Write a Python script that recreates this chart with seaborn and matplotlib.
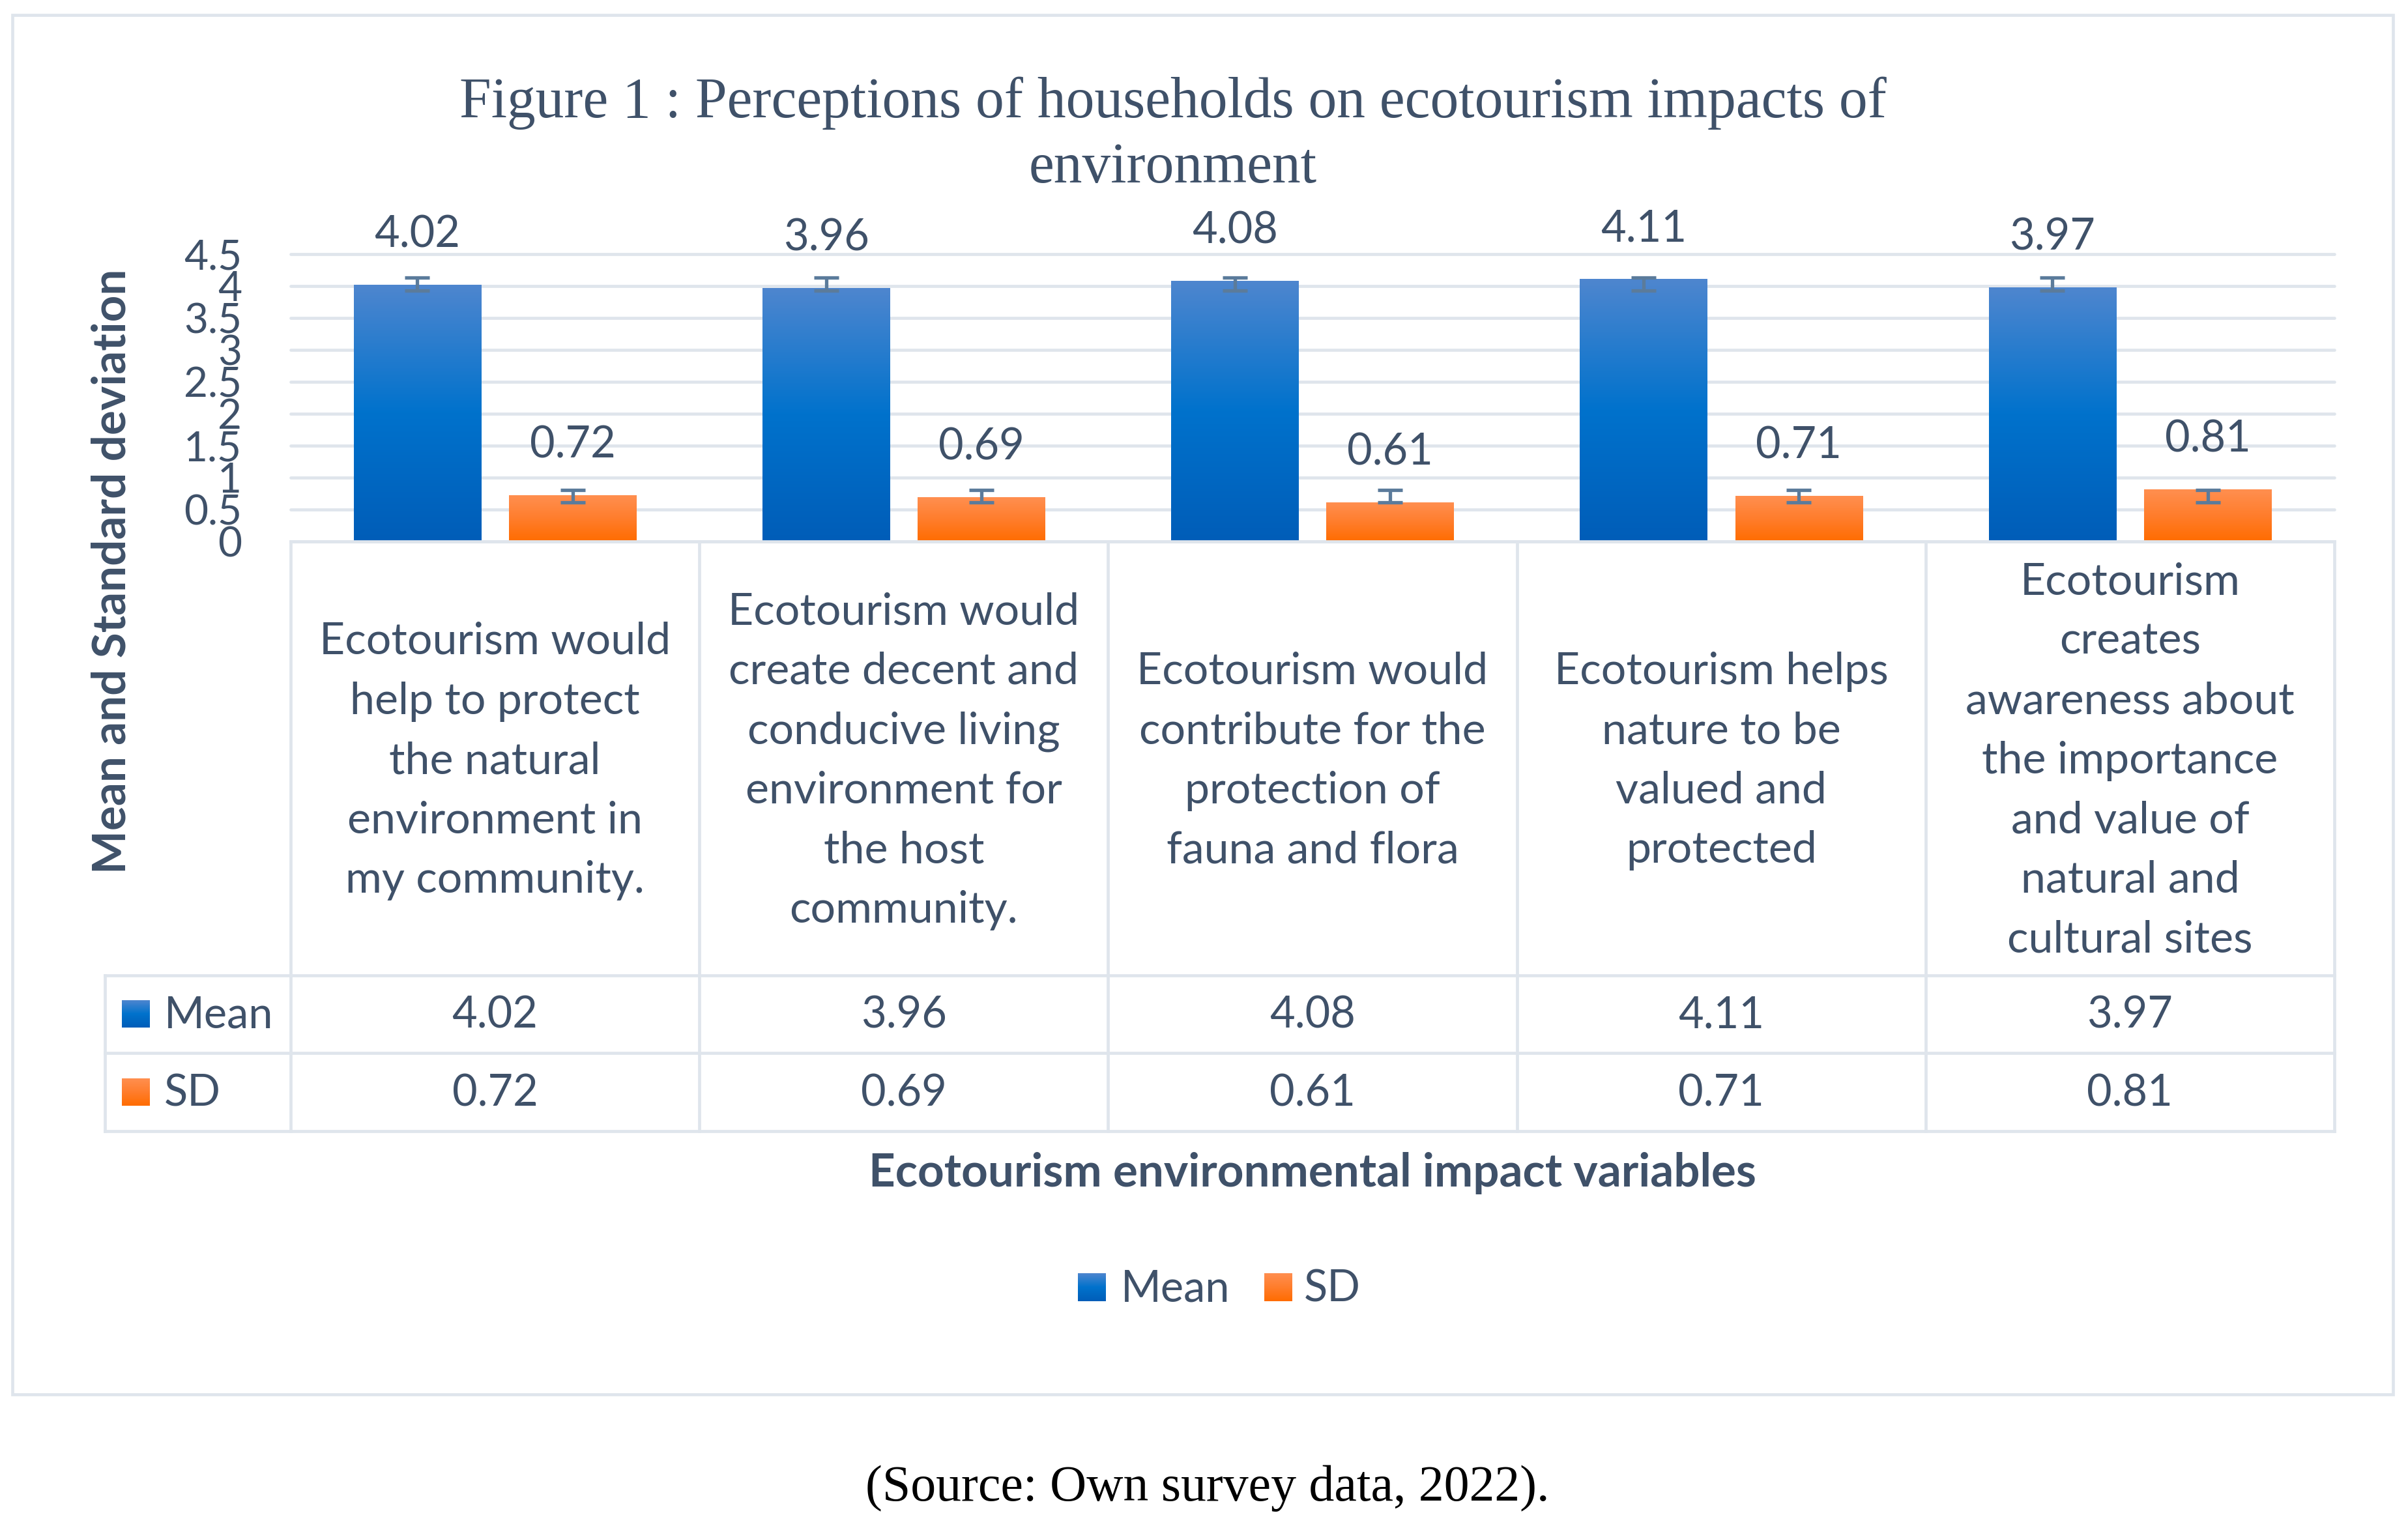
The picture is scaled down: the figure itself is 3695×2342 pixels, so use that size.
import numpy as np
import pandas as pd
import matplotlib
matplotlib.use("Agg")
import matplotlib.pyplot as plt
import seaborn as sns
from matplotlib.colors import LinearSegmentedColormap
from matplotlib.patches import Rectangle

# --- data ---
categories = [
    "Ecotourism would\nhelp to protect\nthe natural\nenvironment in\nmy community.",
    "Ecotourism would\ncreate decent and\nconducive living\nenvironment for\nthe host\ncommunity.",
    "Ecotourism would\ncontribute for the\nprotection of\nfauna and flora",
    "Ecotourism helps\nnature to be\nvalued and\nprotected",
    "Ecotourism\ncreates\nawareness about\nthe importance\nand value of\nnatural and\ncultural sites",
]
series_names = ["Mean", "SD"]
mean_values = [4.02, 3.96, 4.08, 4.11, 3.97]
sd_values = [0.72, 0.69, 0.61, 0.71, 0.81]
error_size = [0.1, 0.1]
y_ticks = [0, 0.5, 1, 1.5, 2, 2.5, 3, 3.5, 4, 4.5]
y_tick_labels = ["0", "0.5", "1", "1.5", "2", "2.5", "3", "3.5", "4", "4.5"]

title = "Figure 1 : Perceptions of households on ecotourism impacts of\nenvironment"
y_title = "Mean and Standard deviation"
x_title = "Ecotourism environmental impact variables"
source = "(Source: Own survey data, 2022)."

TXT = "#3f5169"
GRID = "#dfe5ec"
ERR = "#5b7b9b"
LW = 1.7

cmaps = {
    "Mean": LinearSegmentedColormap.from_list("blu", [(0, "#4e86cf"), (0.5, "#0072cc"), (1, "#005db8")]),
    "SD": LinearSegmentedColormap.from_list("org", [(0, "#ff8f50"), (0.5, "#ff7d2c"), (1, "#ff6c00")]),
}
palette = {"Mean": "#0072cc", "SD": "#ff7d2c"}

df = pd.DataFrame({
    "item": categories * 2,
    "stat": ["Mean"] * len(categories) + ["SD"] * len(categories),
    "value": mean_values + sd_values,
})

sns.set_style("white")
plt.rcParams["font.family"] = ["Lato", "DejaVu Sans"]

W, H, DPI = 3695, 2342, 200
fig = plt.figure(figsize=(W / DPI, H / DPI), dpi=DPI, facecolor="white")

# plot area in pixels
left, right, top, bottom = 446, 3582, 390, 831
ax = fig.add_axes([left / W, 1 - bottom / H, (right - left) / W, (bottom - top) / H])

sns.barplot(data=df, x="item", y="value", hue="stat", hue_order=series_names,
            palette=palette, saturation=1, width=0.76, gap=0.18, errorbar=None,
            legend=False, ax=ax)

grad = np.linspace(0, 1, 256).reshape(-1, 1)
centers = {"Mean": [], "SD": []}
for p in list(ax.patches):
    h = p.get_height()
    if h == 0 or np.isnan(h):
        continue
    x0, w = p.get_x(), p.get_width()
    cx = x0 + w / 2
    # bars left of the group centre are Mean, right of it are SD
    stat = "Mean" if cx < round(cx) else "SD"
    ax.imshow(grad, extent=(x0, x0 + w, 0, h), origin="upper", aspect="auto",
              cmap=cmaps[stat], interpolation="bilinear", zorder=2)
    p.set_facecolor("none")
    p.set_edgecolor("none")
    centers[stat].append(cx)
    ax.annotate(f"{h:.2f}", xy=(cx, h), xytext=(0, 58 * 72 / DPI),
                textcoords="offset points", ha="center", va="baseline",
                fontsize=24, color=TXT)

for stat, vals, err in zip(series_names, [mean_values, sd_values], error_size):
    xs = sorted(centers[stat])
    ax.errorbar(xs, [np.mean(vals)] * len(xs), yerr=err, fmt="none", ecolor=ERR,
                elinewidth=1.9, capsize=7, capthick=1.9, zorder=4)

ax.set_xlim(-0.5, len(categories) - 0.5)
ax.set_ylim(0, 4.5)
ax.set_yticks(y_ticks, y_tick_labels)
ax.yaxis.grid(True, color=GRID, lw=LW)
ax.xaxis.grid(False)
ax.set_axisbelow(True)
for l in ax.get_ygridlines():
    l.set_clip_on(False)
for s in ax.spines.values():
    s.set_visible(False)
ax.tick_params(axis="y", length=0, pad=27, labelsize=23, labelcolor=TXT)
ax.tick_params(axis="x", length=0, labelbottom=False)
ax.set_xlabel("")
ax.set_ylabel("")

# overlay in pixel coordinates for the data table, titles and legend
ov = fig.add_axes([0, 0, 1, 1], zorder=5)
ov.set_xlim(0, W)
ov.set_ylim(H, 0)
ov.axis("off")

ov.add_patch(Rectangle((19, 23), 3672 - 19, 2140 - 23, fill=False, ec=GRID, lw=LW))

edges = np.linspace(left, right, len(categories) + 1)
row_top, row_mid, row_sd, row_end = bottom, 1497, 1616, 1736
tab_left = 161
ov.plot([left, right], [row_top, row_top], color=GRID, lw=LW, solid_capstyle="projecting")
for y in [row_mid, row_sd, row_end]:
    ov.plot([tab_left, right], [y, y], color=GRID, lw=LW, solid_capstyle="projecting")
for x in edges:
    ov.plot([x, x], [row_top, row_end], color=GRID, lw=LW, solid_capstyle="projecting")
ov.plot([tab_left, tab_left], [row_mid, row_end], color=GRID, lw=LW, solid_capstyle="projecting")

cell_mid = (row_top + row_mid) / 2 + 23
for i, cat in enumerate(categories):
    cx = (edges[i] + edges[i + 1]) / 2
    lines = cat.split("\n")
    n = len(lines)
    for j, line in enumerate(lines):
        ov.text(cx, cell_mid + (j - (n - 1) / 2) * 91.5, line, ha="center",
                va="baseline", fontsize=24.5, color=TXT)
    ov.text(cx, 1578, f"{mean_values[i]:.2f}", ha="center", va="baseline", fontsize=24, color=TXT)
    ov.text(cx, 1698, f"{sd_values[i]:.2f}", ha="center", va="baseline", fontsize=24, color=TXT)


def key(x0, y0, size, stat):
    ov.imshow(grad, extent=(x0, x0 + size, y0 + size, y0), origin="upper", aspect="auto",
              cmap=cmaps[stat], interpolation="bilinear")


key(187, 1535, 42, "Mean")
ov.text(252, 1578, "Mean", ha="left", va="baseline", fontsize=24, color=TXT)
key(187, 1655, 42, "SD")
ov.text(252, 1698, "SD", ha="left", va="baseline", fontsize=24, color=TXT)

# bottom legend
key(1654, 1954, 43, "Mean")
ov.text(1720, 1997, "Mean", ha="left", va="baseline", fontsize=24, color=TXT)
key(1940, 1954, 43, "SD")
ov.text(2001, 1997, "SD", ha="left", va="baseline", fontsize=24, color=TXT)

ov.set_xlim(0, W)
ov.set_ylim(H, 0)

for k, line in enumerate(title.split("\n")):
    ov.text(1800, 180 + 100 * k, line, ha="center", va="baseline", fontsize=31.5,
            color=TXT, family="Liberation Serif")

ov.text(172, 877, y_title, rotation=90, ha="center", va="center", fontsize=25.5,
        fontweight="bold", color=TXT)
ov.text(2014, 1821, x_title, ha="center", va="baseline", fontsize=25.5,
        fontweight="bold", color=TXT)
ov.text(1853, 2303, source, ha="center", va="baseline", fontsize=28,
        color="black", family="Liberation Serif")

fig.savefig("out.png", dpi=DPI, facecolor="white")
